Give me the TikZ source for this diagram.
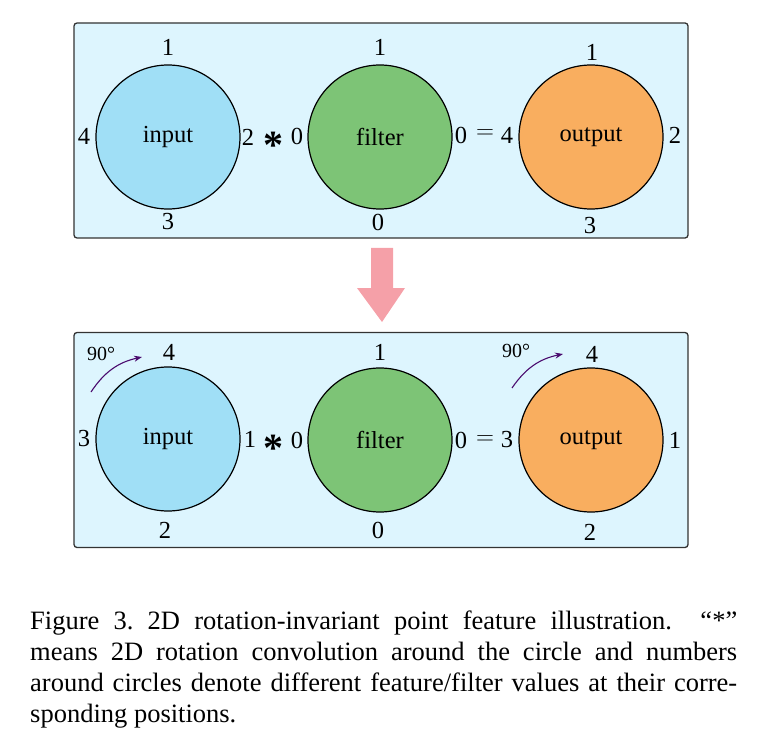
\documentclass[tikz,border=0pt]{standalone}
\usepackage{fontspec}
\setmainfont{Liberation Serif}
\usetikzlibrary{arrows.meta}
\definecolor{boxfill}{HTML}{DDF5FE}
\definecolor{inpcol}{HTML}{A0DFF6}
\definecolor{filcol}{HTML}{7DC476}
\definecolor{outcol}{HTML}{F9AE5F}
\definecolor{pinkarrow}{HTML}{F5A0A8}
\definecolor{rotcol}{HTML}{4A0A6E}
\definecolor{boxline}{HTML}{333333}
\frenchspacing
\begin{document}
\begin{tikzpicture}[x=1pt,y=-1pt,
  panel/.style={draw=boxline, fill=boxfill, line width=1.3pt, rounded corners=3pt,
    minimum width=614pt, minimum height=215pt, inner sep=0},
  disc/.style={circle, draw=black, line width=1.2pt, minimum size=144pt, inner sep=0,
    font=\fontsize{24.5}{28}\selectfont},
  lab/.style={font=\fontsize{24.5}{28}\selectfont, inner sep=0},
  eqop/.style={font=\fontsize{31}{31}\selectfont, inner sep=0},
  astop/.style={font=\fontsize{40}{40}\selectfont\bfseries, inner sep=0, anchor=base},
  deg/.style={font=\fontsize{20}{24}\selectfont, inner sep=0},
  rot/.style={draw=rotcol, line width=1.1pt, -{Stealth[length=8pt,width=6pt]}}]
\useasboundingbox (0,0) rectangle (765,751);
% panels
\node[panel] (top) at (381,130.5) {};
\node[panel] (bot) at (381,440) {};
% top row
\node[disc, fill=inpcol] (in1) at (168,137) {input};
\node[disc, fill=filcol] (fi1) at (380,137) {filter};
\node[disc, fill=outcol] (ou1) at (591,137) {output};
\node[lab] (in1t) at (168,47) {1};
\node[lab] (in1b) at (168,222) {3};
\node[lab] (in1l) at (84,136) {4};
\node[lab] (in1r) at (248,137) {2};
\node[astop] (ast1) at (273.5,159) {*};
\node[lab] (fi1l) at (297,136) {0};
\node[lab] (fi1t) at (380,47) {1};
\node[lab] (fi1b) at (378,222) {0};
\node[lab] (fi1r) at (461,135) {0};
\node[eqop] (eq1) at (485,134) {$=$};
\node[lab] (ou1l) at (507,135) {4};
\node[lab] (ou1t) at (592,52) {1};
\node[lab] (ou1b) at (590,226) {3};
\node[lab] (ou1r) at (675,135) {2};
% big arrow
\fill[pinkarrow] (371,248) -- (393,248) -- (393,288) -- (405,288) -- (382,322)
  -- (357,288) -- (371,288) -- cycle;
% bottom row
\node[disc, fill=inpcol] (in2) at (168,439) {input};
\node[disc, fill=filcol] (fi2) at (380,440) {filter};
\node[disc, fill=outcol] (ou2) at (591,440) {output};
\node[lab] (in2t) at (169,352) {4};
\node[lab] (in2b) at (165,530) {2};
\node[lab] (in2l) at (84,439) {3};
\node[lab] (in2r) at (250,439) {1};
\node[astop] (ast2) at (273.5,461) {*};
\node[lab] (fi2l) at (297,440) {0};
\node[lab] (fi2t) at (380,352) {1};
\node[lab] (fi2b) at (378,530) {0};
\node[lab] (fi2r) at (461,440) {0};
\node[eqop] (eq2) at (485,440) {$=$};
\node[lab] (ou2l) at (507,440) {3};
\node[lab] (ou2t) at (592,354) {4};
\node[lab] (ou2b) at (590,532) {2};
\node[lab] (ou2r) at (675,440) {1};
\node[deg] (d1) at (101,354) {90°};
\node[deg] (d2) at (516,351) {90°};
\coordinate (r1s) at (91,392);
\coordinate (r1e) at (142,357);
\coordinate (r2s) at (512,388);
\coordinate (r2e) at (563,354);
\draw[rot] (r1s) to[bend left=22] (r1e);
\draw[rot] (r2s) to[bend left=22] (r2e);
% caption
\node[anchor=north west, text width=707pt, align=justify, inner sep=0,
  font=\fontsize{26.5}{31}\selectfont] (cap) at (30,611)
  {Figure 3. 2D rotation-invariant point feature illustration. \ “*”\linebreak
   means 2D rotation convolution around the circle and numbers\linebreak
   around circles denote different feature/filter values at their corre-\linebreak
   sponding positions.};
\end{tikzpicture}
\end{document}
